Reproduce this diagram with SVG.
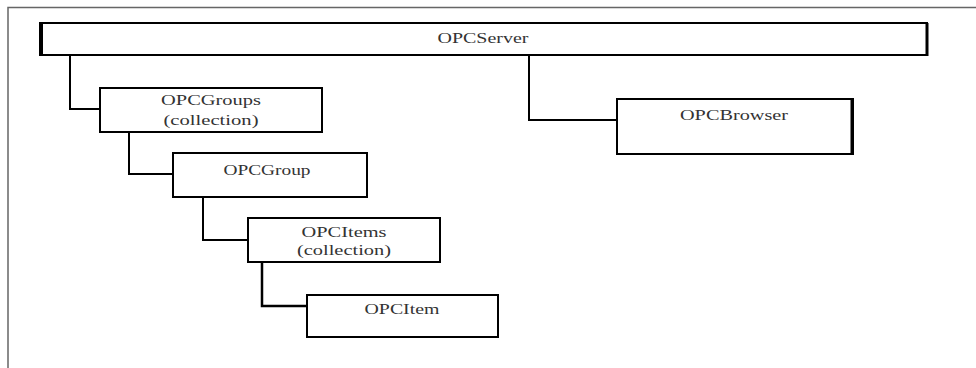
<svg xmlns="http://www.w3.org/2000/svg" width="976" height="368" viewBox="0 0 976 368">
<style>
.box{fill:#fff;stroke:#000;stroke-width:2}
.lbl{font-family:"Liberation Serif","Times New Roman",serif;font-size:15px;fill:#333;text-anchor:middle}
.con{fill:none;stroke:#000;stroke-width:2}
.frame{fill:none;stroke:#666;stroke-width:1.5}
</style>
<rect width="976" height="368" fill="#fff"/>
<path class="frame" d="M8,368 V7.5 H976"/>
<g id="connectors">
<path class="con" d="M70,55 V109 H100"/>
<path class="con" d="M529,55 V120 H617"/>
<path class="con" d="M129,132 V174 H173"/>
<path class="con" d="M203,197 V240 H248"/>
<path class="con" d="M262,262 V306 H307" style="stroke-width:2.5"/>
</g>
<g id="OPCServer">
<rect class="box" x="40" y="23" width="887" height="32"/>
<line x1="41" y1="23" x2="41" y2="55" stroke="#000" stroke-width="4"/>
<line x1="927" y1="23" x2="927" y2="56" stroke="#000" stroke-width="3"/>
<text class="lbl" x="483" y="43" textLength="91" lengthAdjust="spacingAndGlyphs">OPCServer</text>
</g>
<g id="OPCGroups">
<rect class="box" x="100" y="88" width="222" height="44"/>
<text class="lbl" x="211" y="105" textLength="100" lengthAdjust="spacingAndGlyphs">OPCGroups</text>
<text class="lbl" x="211" y="125" textLength="95" lengthAdjust="spacingAndGlyphs">(collection)</text>
</g>
<g id="OPCBrowser">
<rect class="box" x="617" y="99" width="236" height="55"/>
<line x1="852" y1="99" x2="852" y2="155" stroke="#000" stroke-width="3"/>
<text class="lbl" x="734" y="120" textLength="108" lengthAdjust="spacingAndGlyphs">OPCBrowser</text>
</g>
<g id="OPCGroup">
<rect class="box" x="173" y="153" width="194" height="44"/>
<text class="lbl" x="267" y="175" textLength="87" lengthAdjust="spacingAndGlyphs">OPCGroup</text>
</g>
<g id="OPCItems">
<rect class="box" x="248" y="218" width="192" height="44"/>
<text class="lbl" x="344" y="237" textLength="85" lengthAdjust="spacingAndGlyphs">OPCItems</text>
<text class="lbl" x="344" y="255" textLength="94" lengthAdjust="spacingAndGlyphs">(collection)</text>
</g>
<g id="OPCItem">
<rect class="box" x="307" y="295" width="191" height="42"/>
<text class="lbl" x="402" y="314" textLength="75" lengthAdjust="spacingAndGlyphs">OPCItem</text>
</g>
</svg>
